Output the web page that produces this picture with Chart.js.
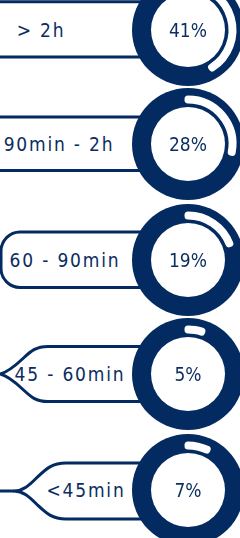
<!DOCTYPE html>
<html>
<head>
<meta charset="utf-8">
<script src="https://cdn.jsdelivr.net/npm/chart.js@4.4.1/dist/chart.umd.min.js"></script>
<style>
  html, body { margin: 0; padding: 0; background: #fff; }
  body { width: 240px; height: 538px; position: relative; overflow: hidden; }
  #shapes { position: absolute; left: 0; top: 0; }
  .lbl, .pct {
    position: absolute; height: 22px; line-height: 22px;
    font-family: "DejaVu Sans Condensed", "DejaVu Sans", sans-serif; font-size: 19px; color: #0b2d5f;
    white-space: nowrap; text-align: center;
  }
  .lbl { letter-spacing: 1.8px; }
  .pct { letter-spacing: 0px; }
  .donut { position: absolute; width: 120px; height: 120px; }
</style>
</head>
<body>
<svg id="shapes" width="240" height="538" viewBox="0 0 240 538">
  <g fill="#fff" stroke="#032b61" stroke-width="3" stroke-linejoin="round">
    <path d="M 160 1.8 L -10 1.8 L -10 57 L 160 57"/>
    <path d="M 160 117 L -10 117 L -10 170.5 L 160 170.5"/>
    <path d="M 160 232 L 20 232 A 19 19 0 0 0 1 251 L 1 268.5 A 19 19 0 0 0 20 287.5 L 160 287.5"/>
    <path d="M 160 346.5 L 48 346.5 C 36 346.5 31 351 23 358.5 C 15 366 7 372.5 0 374 C 7 375.5 15 382 23 389.5 C 31 397 36 401.5 48 401.5 L 160 401.5"/>
    <path d="M 160 463 L 66 463 C 52 463 46 469 37 477.5 C 29 485.5 23 491 14 491 C 23 491 29 496.5 37 504.5 C 46 513 52 519 66 519 L 160 519"/>
    <path d="M 14 491 L -5 491" fill="none"/>
  </g>
</svg>
<div id="root"></div>
<script>
const categories = ['> 2h', '90min - 2h', '60 - 90min', '45 - 60min', '<45min'];
const shares = [41, 28, 19, 5, 7];
const percentLabels = ['41%', '28%', '19%', '5%', '7%'];

const NAVY = '#032b61';
const rowCenters = [30, 144, 260, 374, 490];
const labelBoxes = [
  { left: 12, width: 58 },
  { left: 0, width: 118 },
  { left: 3, width: 124 },
  { left: 10, width: 120 },
  { left: 46, width: 80 }
];
const donutCx = 188;

const trackPlugin = {
  id: 'track',
  beforeDatasetsDraw(chart) {
    const el = chart.getDatasetMeta(0).data[0];
    if (!el) return;
    const mid = (el.innerRadius + el.outerRadius) / 2;
    const ctx = chart.ctx;
    ctx.save();
    ctx.beginPath();
    ctx.arc(el.x, el.y, mid + 11.5, 0, Math.PI * 2);
    ctx.fillStyle = NAVY;
    ctx.fill();
    ctx.beginPath();
    ctx.arc(el.x, el.y, mid - 7.5, 0, Math.PI * 2);
    ctx.fillStyle = '#ffffff';
    ctx.fill();
    ctx.restore();
  }
};

const root = document.getElementById('root');
categories.forEach((cat, i) => {
  const cy = rowCenters[i];
  const lb = document.createElement('div');
  lb.className = 'lbl';
  lb.style.left = labelBoxes[i].left + 'px';
  lb.style.width = labelBoxes[i].width + 'px';
  lb.style.top = (cy - 11) + 'px';
  lb.textContent = cat;
  root.appendChild(lb);

  const wrap = document.createElement('div');
  wrap.className = 'donut';
  wrap.style.left = (donutCx - 60) + 'px';
  wrap.style.top = (cy - 60) + 'px';
  const cv = document.createElement('canvas');
  cv.width = 120; cv.height = 120;
  wrap.appendChild(cv);
  root.appendChild(wrap);

  new Chart(cv, {
    type: 'doughnut',
    data: {
      labels: [cat, ''],
      datasets: [{
        data: [shares[i], 100 - shares[i]],
        backgroundColor: ['#ffffff', 'rgba(0,0,0,0)'],
        borderColor: ['#ffffff', 'rgba(0,0,0,0)'],
        borderWidth: [7, 0],
        borderJoinStyle: 'round',
        borderAlign: 'center'
      }]
    },
    options: {
      responsive: false,
      devicePixelRatio: 1,
      animation: false,
      events: [],
      radius: 45,
      cutout: (44 / 45 * 100) + '%',
      rotation: 0,
      circumference: 360,
      layout: { padding: 0 },
      plugins: { legend: { display: false }, tooltip: { enabled: false } }
    },
    plugins: [trackPlugin]
  });

  const pc = document.createElement('div');
  pc.className = 'pct';
  pc.style.left = (donutCx - 30) + 'px';
  pc.style.width = '60px';
  pc.style.top = (cy - 11) + 'px';
  pc.textContent = percentLabels[i];
  root.appendChild(pc);
});
</script>
</body>
</html>
